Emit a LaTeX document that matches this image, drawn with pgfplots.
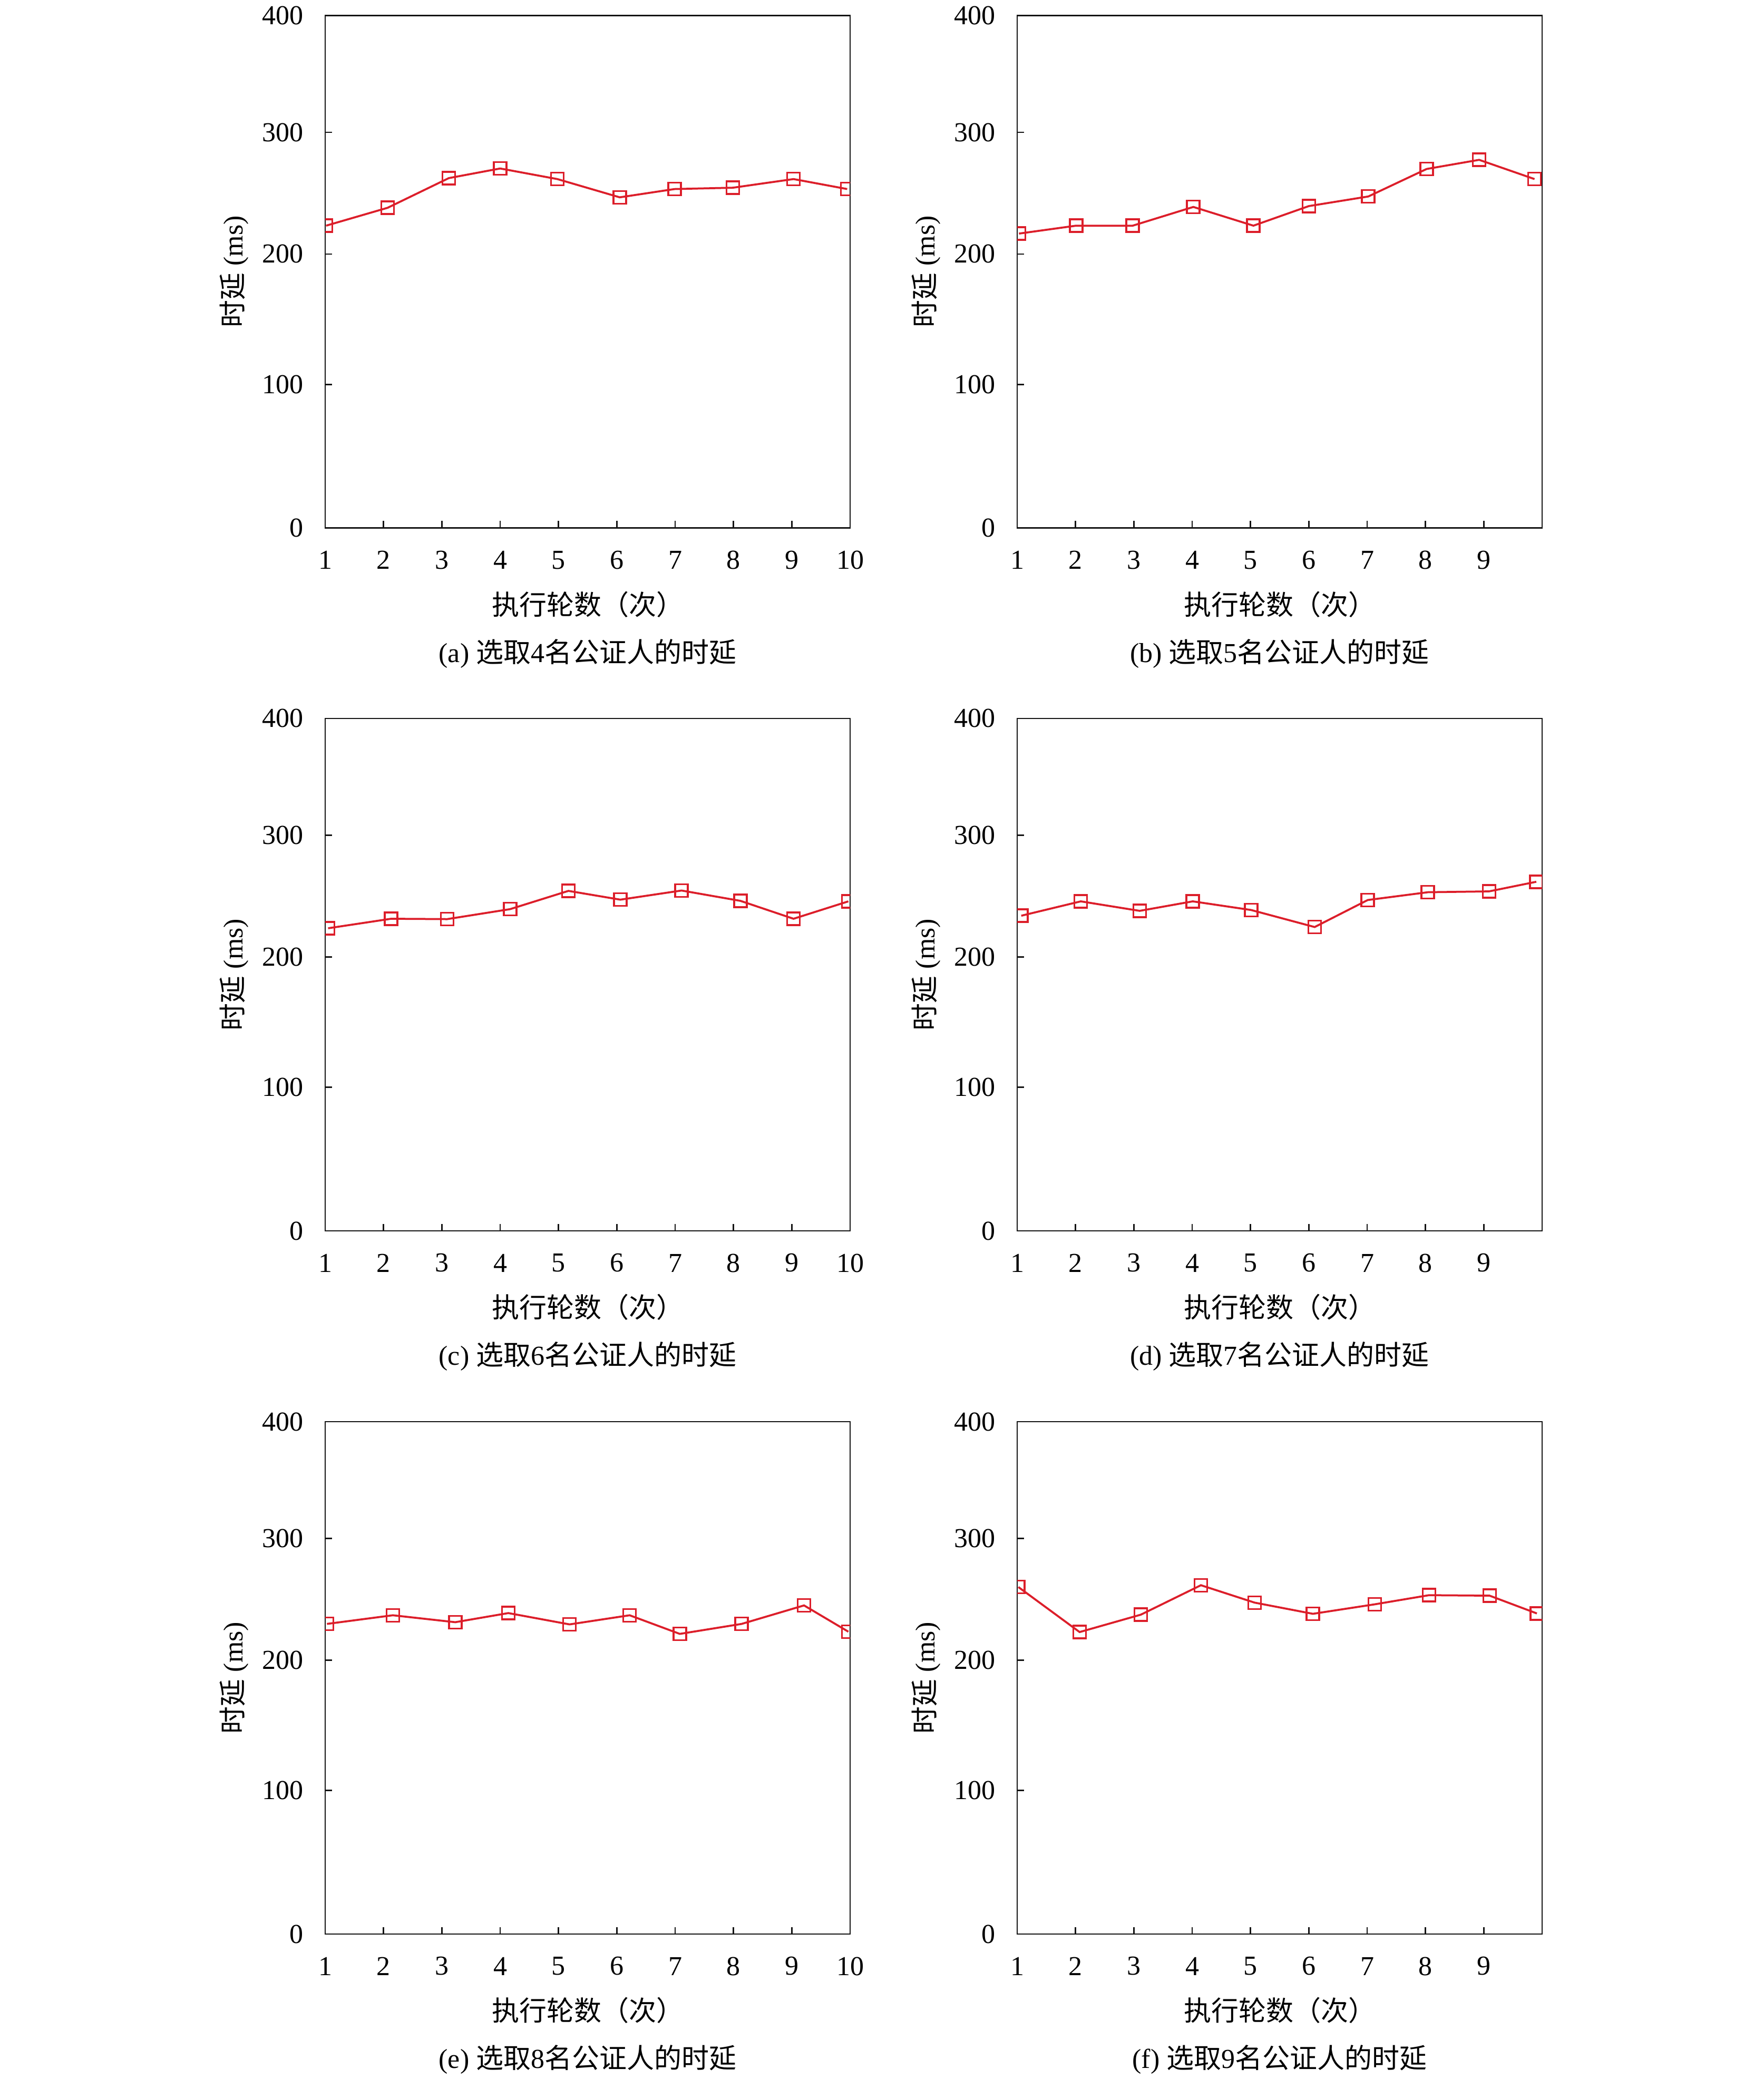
\documentclass[border=0pt]{standalone}
\usepackage{fontspec}
\setmainfont{Liberation Serif}
\newfontfamily\cjk{Noto Sans CJK SC}
\usepackage{pgfplots}
\pgfplotsset{compat=1.18}
\definecolor{lred}{RGB}{220,30,42}
\definecolor{axgray}{RGB}{20,20,20}
\pgfplotsset{
  myaxis/.style={
    scale only axis, width=199.2pt, height=194.4pt,
    xmin=1, xmax=10, ymin=0, ymax=400,
    y coord trafo/.code={\pgfmathparse{(##1<100) ? (1.12*##1) : ((##1<200) ? (112+1.018*(##1-100)) : ((##1<300) ? (213.8+0.95*(##1-200)) : (308.8+0.912*(##1-300))))}},
    ytick={0,100,200,300,400}, yticklabels={0,100,200,300,400},
    xtick pos=bottom, ytick pos=left, tick align=inside,
    major tick length=2.6pt,
    axis line style={line width=0.55pt, draw=axgray},
    tick style={line width=0.55pt, draw=axgray},
    clip marker paths=true,
    font=\fontsize{10.4}{12.5}\selectfont,
    /pgf/number format/assume math mode=true,
    xticklabel style={anchor=center, yshift=-12.2pt, font=\fontsize{10.4}{12.5}\selectfont},
    yticklabel style={anchor=east, inner sep=0pt, xshift=-8.2pt, font=\fontsize{10.4}{12.5}\selectfont},
    xlabel={{\cjk 执行轮数（次）}},
    xlabel style={at={(axis description cs:0.5,-0.1492)}, anchor=center, inner sep=0pt},
    ylabel={{\cjk 时延}\ (ms)},
    ylabel style={at={(axis description cs:-0.1732,0.5)}, anchor=center, inner sep=0pt},
    every axis title shift=0pt,
    title style={at={(axis description cs:0.5,-0.2454)}, anchor=center, inner sep=0pt, font=\fontsize{10.4}{12.5}\selectfont},
  },
  myplot/.style={color=lred, line width=0.75pt, mark=square, mark size=2.4pt, mark options={solid, line width=0.7pt}},
}
\begin{document}
\begin{tikzpicture}
\useasboundingbox (0,0) rectangle (669.2pt,788.8pt);
% (a)
\begin{axis}[myaxis, at={(123.4pt,782.9pt)}, anchor=north west,
  xtick={1,...,10},
  title={(a) {\cjk 选取}4{\cjk 名公证人的时延}}]
\addplot[myplot] coordinates {
(1.015,223.3) (2.07,238.0) (3.12,262.4) (4.00,270.3) (4.98,261.6)
(6.05,246.6) (6.99,253.4) (7.99,254.5) (9.03,261.6) (9.95,253.4)};
\end{axis}
% (b)
\begin{axis}[myaxis, at={(386.0pt,782.9pt)}, anchor=north west,
  xtick={1,...,9},
  title={(b) {\cjk 选取}5{\cjk 名公证人的时延}}]
\addplot[myplot] coordinates {
(1.03,216.8) (2.01,223.3) (2.98,223.3) (4.02,238.7) (5.05,223.3)
(6.00,239.4) (7.02,247.3) (8.02,269.9) (8.92,277.4) (9.87,261.6)};
\end{axis}
% (c)
\begin{axis}[myaxis, at={(123.4pt,516.2pt)}, anchor=north west,
  xtick={1,...,10},
  title={(c) {\cjk 选取}6{\cjk 名公证人的时延}}]
\addplot[myplot] coordinates {
(1.05,223.6) (2.13,231.4) (3.09,231.1) (4.17,239.3) (5.17,254.3)
(6.06,247.1) (7.11,254.6) (8.12,246.1) (9.03,231.4) (9.97,245.7)};
\end{axis}
% (d)
\begin{axis}[myaxis, at={(386.0pt,516.2pt)}, anchor=north west,
  xtick={1,...,9},
  title={(d) {\cjk 选取}7{\cjk 名公证人的时延}}]
\addplot[myplot] coordinates {
(1.07,233.9) (2.09,245.7) (3.10,237.9) (4.01,245.7) (5.01,238.6)
(6.10,224.6) (7.01,246.8) (8.04,253.2) (9.09,253.9) (9.90,261.8)};
\end{axis}
% (e)
\begin{axis}[myaxis, at={(123.4pt,249.4pt)}, anchor=north west,
  xtick={1,...,10},
  title={(e) {\cjk 选取}8{\cjk 名公证人的时延}}]
\addplot[myplot] coordinates {
(1.03,229.8) (2.16,236.9) (3.23,231.2) (4.14,238.7) (5.19,229.4)
(6.22,236.9) (7.08,221.6) (8.14,229.8) (9.21,245.0) (9.97,223.4)};
\end{axis}
% (f)
\begin{axis}[myaxis, at={(386.0pt,249.4pt)}, anchor=north west,
  xtick={1,...,9},
  title={(f) {\cjk 选取}9{\cjk 名公证人的时延}}]
\addplot[myplot] coordinates {
(1.02,260.1) (2.07,223.1) (3.12,237.4) (4.15,261.6) (5.07,247.3)
(6.07,238.1) (7.13,245.9) (8.06,253.4) (9.10,253.0) (9.91,238.4)};
\end{axis}
\end{tikzpicture}
\end{document}
